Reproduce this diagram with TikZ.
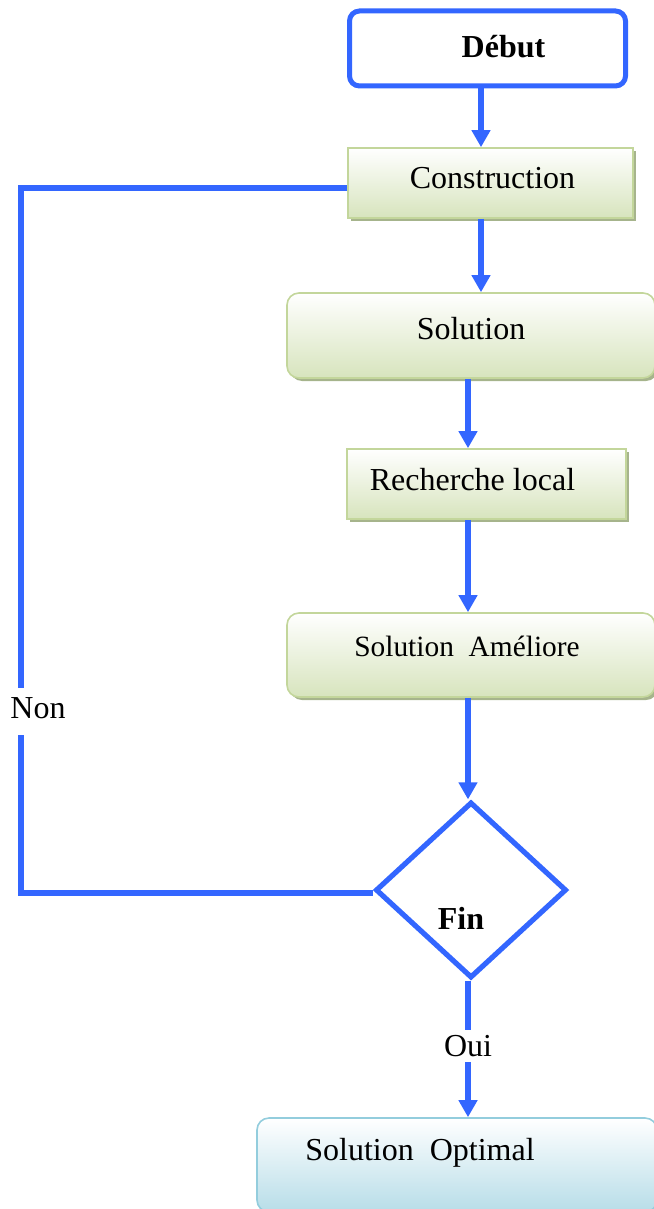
\documentclass[tikz,border=0pt]{standalone}
\usepackage{fontspec}
\setmainfont{Liberation Serif}
\usetikzlibrary{arrows.meta,shapes.geometric,shadows}

\definecolor{flowblue}{RGB}{51,102,255}
\definecolor{boxgreen}{RGB}{195,214,155}
\definecolor{fillgreen}{RGB}{215,228,189}
\definecolor{shadegreen}{RGB}{166,180,140}
\definecolor{boxcyan}{RGB}{147,205,221}
\definecolor{fillcyan}{RGB}{183,221,232}

\tikzset{
    link/.style={flowblue, line width=2.8pt},
    arr/.style={link, -{Triangle[width=9pt,length=8.5pt]}},
    startbox/.style={draw=flowblue, line width=2.5pt, rounded corners=5pt, fill=white},
    greenbox/.style={draw=boxgreen, line width=0.8pt, top color=white, bottom color=fillgreen,
        drop shadow={shadow xshift=1.5pt, shadow yshift=-1.5pt, fill=shadegreen, opacity=1}},
    cyanbox/.style={draw=boxcyan, line width=0.8pt, rounded corners=6pt, top color=white, bottom color=fillcyan},
    testbox/.style={draw=flowblue, line width=2.6pt, diamond, fill=white, inner sep=0pt},
}

\begin{document}
\begin{tikzpicture}[x=0.5pt, y=-0.5pt, font=\fontsize{16}{19}\selectfont]
        \useasboundingbox (0,0) rectangle (653,1209);
        % boxes
        \node[startbox, minimum width=138pt, minimum height=37.5pt,
            label={[xshift=8pt, yshift=1pt]center:\textbf{Début}}] (debut) at (487.5,48.5) {};
        \node[greenbox, minimum width=142.5pt, minimum height=35pt,
            label={[xshift=1pt, yshift=2.5pt]center:Construction}] (constr) at (490.5,183) {};
        \node[greenbox, rounded corners=6pt, minimum width=184pt, minimum height=42.5pt,
            label={[yshift=3.5pt]center:Solution}] (sol) at (471,335.5) {};
        \node[greenbox, minimum width=139.5pt, minimum height=35pt,
            label={[xshift=-7pt, yshift=2pt]center:Recherche local}] (rech) at (486.5,484) {};
        \node[greenbox, rounded corners=6pt, minimum width=184pt, minimum height=42pt,
            label={[xshift=-2pt, yshift=4.5pt, font=\fontsize{14.7}{17}\selectfont]center:Solution\ \ Améliore}] (amel) at (471,655) {};
        \node[testbox, minimum width=95.5pt, minimum height=88pt,
            label={[xshift=-5pt, yshift=-14pt]center:\textbf{Fin}}] (fin) at (471,890) {};
        \node[cyanbox, minimum width=200pt, minimum height=47pt,
            label={[xshift=-18.5pt, yshift=6pt]center:Solution\ \ Optimal}] (opt) at (457,1165) {};
        % labels
        \node[inner xsep=1pt, inner ysep=2.5pt] (oui) at (468,1046) {Oui};
        \node[inner sep=0pt] (non) at (38,708) {Non};
        \coordinate (ntop) at (21,688);
        \coordinate (nbot) at (21,735);
        % arrows
        \draw[arr] (debut.south -| 481,0) -- (constr.north -| 481,0);
        \draw[arr] (constr.south -| 481,0) -- (sol.north -| 481,0);
        \draw[arr] (sol.south -| 468,0) -- (rech.north -| 468,0);
        \draw[arr] (rech.south -| 468,0) -- (amel.north -| 468,0);
        \draw[arr] (amel.south -| 468,0) -- (fin.north -| 468,0);
        \draw[link] (fin.south -| 468,0) -- (oui.north);
        \draw[arr] (oui.south) -- (opt.north -| oui);
        % loop back
        \draw[link] ([yshift=-2.5pt]constr.west) -| (ntop);
        \draw[link] (nbot) |- ([yshift=-1.5pt]fin.west);
    \end{tikzpicture}
\end{document}
